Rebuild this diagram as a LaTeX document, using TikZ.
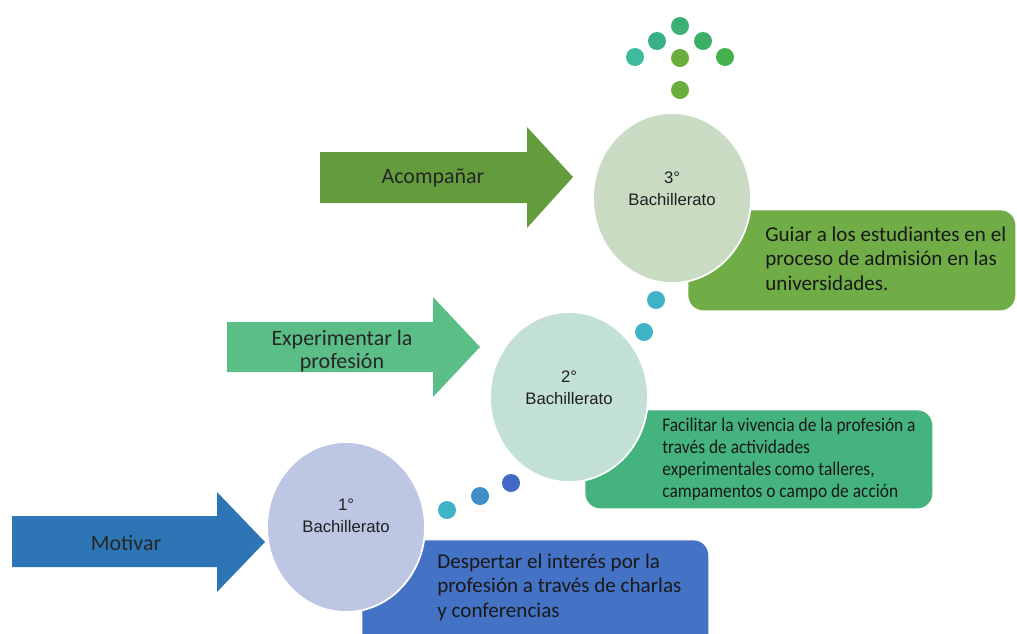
\documentclass[tikz,border=0pt]{standalone}
\usepackage{fontspec}
\setmainfont{Carlito}
\newfontfamily\yearfont{Liberation Sans}
\newfontfamily\narrowfont[FakeStretch=0.9]{Carlito}
\usetikzlibrary{shapes.geometric}
\usetikzlibrary{positioning, calc}

\definecolor{arrowone}{HTML}{2E75B6}
\definecolor{arrowtwo}{HTML}{5BBE87}
\definecolor{arrowthree}{HTML}{629C3C}
\definecolor{goalone}{HTML}{4472C4}
\definecolor{goaltwo}{HTML}{45B37E}
\definecolor{goalthree}{HTML}{70AD47}
\definecolor{yearone}{HTML}{BDC6E3}
\definecolor{yeartwo}{HTML}{C2E0D6}
\definecolor{yearthree}{HTML}{C9DBC3}
\definecolor{dotteal}{HTML}{3DB5C6}
\definecolor{dotmid}{HTML}{3C8DC8}
\definecolor{dotblue}{HTML}{4169C5}
\definecolor{dotsea}{HTML}{3DBB9C}
\definecolor{dotjade}{HTML}{3AAE86}
\definecolor{dotmint}{HTML}{3BB273}
\definecolor{dotleaf}{HTML}{3BAF66}
\definecolor{dotgrass}{HTML}{44B04D}
\definecolor{dotolive}{HTML}{6AAE3E}

\begin{document}
\begin{tikzpicture}[
			x=0.02cm, y=-0.02cm,
			year/.style={ellipse, draw=white, line width=1pt, minimum width=31.6mm, minimum height=34mm, inner sep=0pt},
			yeartext/.style={font=\yearfont\fontsize{9.5}{12.5}\selectfont, align=center, text=black!88},
			goal/.style={rectangle, rounded corners=3mm, inner sep=0pt, anchor=north west},
			goaltext/.style={font=\fontsize{12}{14.2}\selectfont, align=left, inner sep=0pt, anchor=north west, text=black!90},
			arrowtext/.style={font=\fontsize{12.5}{12.8}\selectfont, align=center, text=black!85},
			dot/.style={circle, inner sep=0pt, minimum size=3.6mm}
			]
			\useasboundingbox (0,0) rectangle (1017,633);
			
			% arrows
			\fill[arrowthree] (320,152) -- (527,152) -- (527,127) -- (573,177) -- (527,228) -- (527,203) -- (320,203) -- cycle;
			\fill[arrowtwo] (227,322) -- (433,322) -- (433,297) -- (480,347) -- (433,397) -- (433,372) -- (227,372) -- cycle;
			\fill[arrowone] (12,516) -- (217,516) -- (217,492) -- (265,542) -- (217,592) -- (217,567) -- (12,567) -- cycle;
			\node[arrowtext] (acomp) at (433,178) {Acompañar};
			\node[arrowtext] (exper) at (342,351) {Experimentar la\\profesión};
			\node[arrowtext] (motiv) at (126,543) {Motivar};
			
			% goal boxes
			\node[goal, fill=goalthree, minimum width=65.4mm, minimum height=20mm] (g3) at (688,210) {};
			\node[goal, fill=goaltwo, minimum width=69.4mm, minimum height=19.6mm] (g2) at (585,410) {};
			\node[goal, fill=goalone, minimum width=69.2mm, minimum height=22mm] (g1) at (362,540) {};
			\node[goaltext] (g3text) at ($(g3.north west)+(77,16)$) {Guiar a los estudiantes en el\\proceso de admisión en las\\universidades.};
			\node[goaltext, font=\narrowfont\fontsize{11}{12.5}\selectfont] (g2text) at ($(g2.north west)+(77,8)$) {Facilitar la vivencia de la profesión a\\través de actividades\\experimentales como talleres,\\campamentos o campo de acción};
			\node[goaltext] (g1text) at ($(g1.north west)+(75,13)$) {Despertar el interés por la\\profesión a través de charlas\\y conferencias};
			
			% years
			\node[year, fill=yearthree] (c3) at (672,198) {};
			\node[year, fill=yeartwo] (c2) at (569,397) {};
			\node[year, fill=yearone] (c1) at (346,527) {};
			\node[yeartext] (y3) at ([yshift=1.8mm]c3.center) {3°\\Bachillerato};
			\node[yeartext] (y2) at ([yshift=1.8mm]c2.center) {2°\\Bachillerato};
			\node[yeartext] (y1) at ([yshift=2.2mm]c1.center) {1°\\Bachillerato};
			
			% dots
			\foreach \px/\py/\col [count=\i] in {680/26/dotmint, 657/41/dotjade, 703/41/dotleaf, 635/57/dotsea, 680/58/dotolive, 725/57/dotgrass, 680/90/dotolive}
			\node[dot, fill=\col] (top\i) at (\px,\py) {};
			\foreach \px/\py/\col [count=\i] in {656/300/dotteal, 644/332/dotteal}
			\node[dot, fill=\col] (up\i) at (\px,\py) {};
			\foreach \px/\py/\col [count=\i] in {447/510/dotteal, 480/496/dotmid, 511/483/dotblue}
			\node[dot, fill=\col] (low\i) at (\px,\py) {};
			\end{tikzpicture}
\end{document}
